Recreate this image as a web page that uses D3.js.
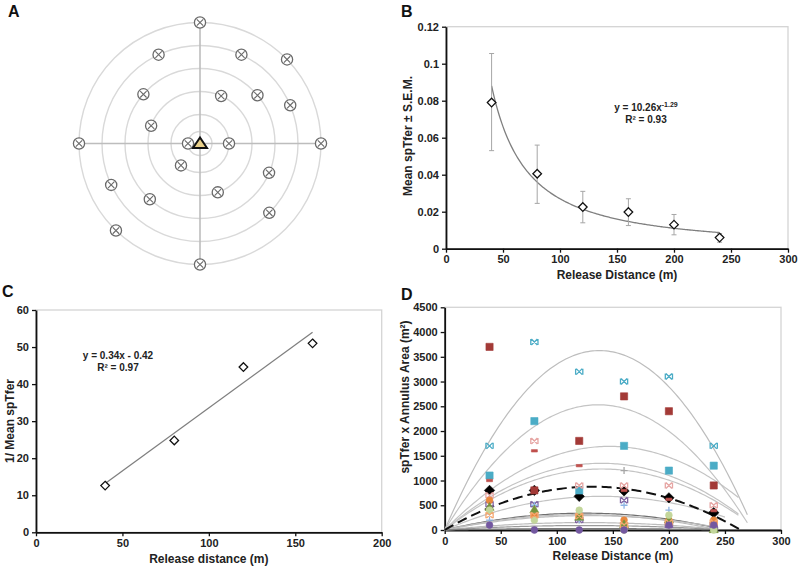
<!DOCTYPE html>
<html><head><meta charset="utf-8">
<script src="https://cdn.jsdelivr.net/npm/d3@7"></script>
<style>
body{margin:0;background:#fff;}
svg{display:block;font-family:"Liberation Sans",Arial,sans-serif;}
</style></head><body>
<svg id="chart" width="800" height="570"></svg>
<script>
// ---------- Panel A data ----------
const ringDistances = [40, 80, 120, 160, 200, 240];
const trapRing  = [240,200,200,240,160,120,160,200,120,40,80,80,160,200,160,120,200,240,240,240,240];
const trapAngle = [90,115,65,44,139,66,40,23,160,180,0,229,337,205,228,290,315,226,270,180,0];

// ---------- Panel B data ----------
const distB = [40, 80, 120, 160, 200, 240];
const meanB = [0.079, 0.0405, 0.0225, 0.0198, 0.013, 0.006];
const lowB  = [0.053, 0.0245, 0.014, 0.0125, 0.0075, 0.0035];
const highB = [0.1055, 0.056, 0.031, 0.027, 0.0185, 0.0082];
const fitBCoef = 10.26, fitBExp = -1.29;
const ticksBX = [0, 50, 100, 150, 200, 250, 300];
const ticksBY = [0, 0.02, 0.04, 0.06, 0.08, 0.1, 0.12];

// ---------- Panel C data ----------
const distC = [40, 80, 120, 160];
const invC  = [12.6, 24.8, 44.6, 51];
const fitCSlope = 0.34, fitCIntercept = -0.42;
const ticksCX = [0, 50, 100, 150, 200];
const ticksCY = [0, 10, 20, 30, 40, 50, 60];

// ---------- Panel D data ----------
const distD = [40, 80, 120, 160, 200, 240];
const meanD      = [800, 800, 680, 790, 650, 350];
const cyanX      = [1700, 3800, 3200, 3000, 3100, 1700];
const redSq      = [3700, 800, 1800, 2700, 2400, 900];
const cyanSq     = [1100, 2200, 800, 1700, 1200, 1300];
const pinkX      = [700, 1800, 900, 900, 900, 500];
const redDash    = [1000, 1600, 1300, 800, 620, 390];
const grayPlus   = [null, null, null, 1200, null, null];
const purpleX    = [520, 520, 200, 600, 100, 100];
const bluePlus   = [200, 500, 200, 500, 400, 100];
const orangeCirc = [600, 280, 300, 200, 200, 200];
const greenTri   = [450, 400, 250, 100, 200, 0];
const lgreenCirc = [400, 200, 400, 0, 300, 0];
const orangeX    = [300, 300, 280, 100, 150, 150];
const purpleCirc = [100, 0, 0, 0, 100, 100];
// quadratic trendlines through origin: peak position, peak value, end of line
const trendPeakX = [138, 137, 147, 140, 140, 140, 125, 122, 128, 125, 125, 125];
const trendPeakY = [3625, 2530, 1690, 1348, 1233, 680, 340, 310, 290, 150, 90, 30];
const trendEndX  = [270, 270, 263, 262, 262, 250, 245, 242, 245, 245, 245, 245];
const meanTrendPeakX = 132, meanTrendPeakY = 875, meanTrendEndX = 264;
const ticksDX = [0, 50, 100, 150, 200, 250, 300];
const ticksDY = [0, 500, 1000, 1500, 2000, 2500, 3000, 3500, 4000, 4500];

// ---------- drawing ----------
const svg = d3.select('#chart');
const TXT = '#222';

function label(t, x, y) {
  svg.append('text').attr('x', x).attr('y', y).attr('font-size', 16)
    .attr('font-weight', 'bold').attr('fill', '#111').text(t);
}

function frame(g, x, y, xTicks, yTicks, yFmt, xTitle, yTitle, yTitleX, yTitleY, xTitleY) {
  const [x0, x1] = x.range(), [y0, y1] = y.range();
  g.append('rect').attr('x', x0).attr('y', y1).attr('width', x1 - x0).attr('height', y0 - y1)
    .attr('fill', 'none').attr('stroke', '#d4d4d4').attr('stroke-width', 1.3);
  const ax = g.append('g').attr('transform', `translate(0,${y0})`)
    .call(d3.axisBottom(x).tickValues(xTicks).tickSize(4).tickSizeOuter(0).tickFormat(d3.format('d')));
  const ay = g.append('g').attr('transform', `translate(${x0},0)`)
    .call(d3.axisLeft(y).tickValues(yTicks).tickSize(4).tickSizeOuter(0).tickFormat(yFmt));
  [ax, ay].forEach(a => {
    a.select('.domain').attr('stroke', '#111').attr('stroke-width', 1.8);
    a.selectAll('.tick line').attr('stroke', '#111').attr('stroke-width', 1.3);
    a.selectAll('.tick text').attr('font-size', 11).attr('font-weight', 'bold')
      .attr('fill', TXT).attr('font-family', '"Liberation Sans",Arial,sans-serif');
  });
  g.append('text').attr('x', (x0 + x1) / 2).attr('y', xTitleY).attr('text-anchor', 'middle')
    .attr('font-size', 12).attr('font-weight', 'bold').attr('fill', TXT).text(xTitle);
  g.append('text').attr('transform', `translate(${yTitleX},${yTitleY}) rotate(-90)`)
    .attr('text-anchor', 'middle').attr('font-size', 12).attr('font-weight', 'bold')
    .attr('fill', TXT).text(yTitle);
}

const diamondPath = (s) => `M0,${-s}L${s},0L0,${s}L${-s},0Z`;

// ===== Panel A =====
label('A', 8, 17);
{
  const cx = 200, cy = 143.5;
  const r = d3.scaleLinear().domain([0, 40, 80, 240]).range([0, 12, 29, 121]);
  const g = svg.append('g');
  g.selectAll('circle.ring').data(ringDistances).join('circle')
    .attr('cx', cx).attr('cy', cy).attr('r', d => r(d))
    .attr('fill', 'none').attr('stroke', '#d9d9d9').attr('stroke-width', 1.4);
  const R = r(d3.max(ringDistances));
  g.append('line').attr('x1', cx - R).attr('x2', cx + R).attr('y1', cy).attr('y2', cy)
    .attr('stroke', '#bdbdbd').attr('stroke-width', 1.6);
  g.append('line').attr('x1', cx).attr('x2', cx).attr('y1', cy - R).attr('y2', cy + R)
    .attr('stroke', '#bdbdbd').attr('stroke-width', 1.6);
  const traps = trapRing.map((d, i) => {
    const a = trapAngle[i] * Math.PI / 180;
    return [cx + r(d) * Math.cos(a), cy - r(d) * Math.sin(a)];
  });
  const tg = g.selectAll('g.trap').data(traps).join('g')
    .attr('transform', d => `translate(${d[0]},${d[1]})`);
  tg.append('circle').attr('r', 5.6).attr('fill', '#fff').attr('stroke', '#6a6a6a').attr('stroke-width', 1.3);
  tg.append('path').attr('d', 'M-3.2,-3.2L3.2,3.2M-3.2,3.2L3.2,-3.2')
    .attr('stroke', '#6a6a6a').attr('stroke-width', 1.1);
  g.append('path').attr('transform', `translate(${cx},${cy})`)
    .attr('d', 'M0,-6L7,4.5L-7,4.5Z').attr('fill', '#e9d08a')
    .attr('stroke', '#111').attr('stroke-width', 2).attr('stroke-linejoin', 'miter');
}

// ===== Panel B =====
label('B', 401, 17);
{
  const g = svg.append('g');
  const x = d3.scaleLinear().domain([0, 300]).range([446, 788]);
  const y = d3.scaleLinear().domain([0, 0.12]).range([248.7, 26.7]);
  frame(g, x, y, ticksBX, ticksBY, d => d === 0 ? '0' : String(+d.toFixed(2)),
    'Release Distance (m)', 'Mean spTfer \u00B1 S.E.M.', 412, 136, 279);
  const fitX = d3.range(distB[0], distB[distB.length - 1] + 0.5, 1);
  g.append('path').datum(fitX)
    .attr('d', d3.line().x(d => x(d)).y(d => y(fitBCoef * Math.pow(d, fitBExp))))
    .attr('fill', 'none').attr('stroke', '#7f7f7f').attr('stroke-width', 1.3);
  const eb = g.selectAll('g.eb').data(distB).join('g');
  eb.append('line').attr('x1', d => x(d)).attr('x2', d => x(d))
    .attr('y1', (d, i) => y(lowB[i])).attr('y2', (d, i) => y(highB[i]))
    .attr('stroke', '#a6a6a6').attr('stroke-width', 1);
  eb.append('path').attr('d', (d, i) =>
      `M${x(d) - 2.5},${y(lowB[i])}H${x(d) + 2.5}M${x(d) - 2.5},${y(highB[i])}H${x(d) + 2.5}`)
    .attr('stroke', '#a6a6a6').attr('stroke-width', 1);
  g.selectAll('path.pt').data(distB).join('path')
    .attr('transform', (d, i) => `translate(${x(d)},${y(meanB[i])})`)
    .attr('d', diamondPath(4.3)).attr('fill', '#fff').attr('stroke', '#111').attr('stroke-width', 1.3);
  const eq = g.append('text').attr('x', 646).attr('y', 111).attr('text-anchor', 'middle')
    .attr('font-size', 10).attr('font-weight', 'bold').attr('fill', TXT);
  eq.append('tspan').text('y = 10.26x');
  eq.append('tspan').attr('dy', -4).attr('font-size', 7).text('-1.29');
  g.append('text').attr('x', 646).attr('y', 123).attr('text-anchor', 'middle')
    .attr('font-size', 10).attr('font-weight', 'bold').attr('fill', TXT).text('R\u00B2 = 0.93');
}

// ===== Panel C =====
label('C', 2, 297);
{
  const g = svg.append('g');
  const x = d3.scaleLinear().domain([0, 200]).range([36, 381.7]);
  const y = d3.scaleLinear().domain([0, 60]).range([532.3, 310]);
  frame(g, x, y, ticksCX, ticksCY, d3.format('d'),
    'Release distance (m)', '1/ Mean spTfer', 14, 421, 563);
  const ends = [distC[0], distC[distC.length - 1]];
  g.append('line')
    .attr('x1', x(ends[0])).attr('y1', y(fitCSlope * ends[0] + fitCIntercept))
    .attr('x2', x(ends[1])).attr('y2', y(fitCSlope * ends[1] + fitCIntercept))
    .attr('stroke', '#7f7f7f').attr('stroke-width', 1.3);
  g.selectAll('path.pt').data(distC).join('path')
    .attr('transform', (d, i) => `translate(${x(d)},${y(invC[i])})`)
    .attr('d', diamondPath(4.3)).attr('fill', '#fff').attr('stroke', '#111').attr('stroke-width', 1.3);
  g.append('text').attr('x', 118).attr('y', 358.5).attr('text-anchor', 'middle')
    .attr('font-size', 10).attr('font-weight', 'bold').attr('fill', TXT).text('y = 0.34x - 0.42');
  g.append('text').attr('x', 118).attr('y', 370.5).attr('text-anchor', 'middle')
    .attr('font-size', 10).attr('font-weight', 'bold').attr('fill', TXT).text('R\u00B2 = 0.97');
}

// ===== Panel D =====
label('D', 401, 300);
{
  const g = svg.append('g');
  const x = d3.scaleLinear().domain([0, 300]).range([444.7, 781]);
  const y = d3.scaleLinear().domain([0, 4500]).range([530, 307.3]);
  frame(g, x, y, ticksDX, ticksDY, d3.format('d'),
    'Release Distance (m)', 'spTfer x Annulus Area (m\u00B2)', 409, 397, 560);
  const quad = (h, P) => xx => P * (2 * xx / h - (xx * xx) / (h * h));
  const line = d3.line().x(d => x(d[0])).y(d => y(d[1]));
  const trendShade = ['#bdbdbd', '#c4c4c4', '#c4c4c4', '#c4c4c4', '#c4c4c4', '#c4c4c4',
                      '#6f6f6f', '#bdbdbd', '#bdbdbd', '#bdbdbd', '#9a9a9a', '#7a7a7a'];
  trendPeakX.forEach((h, i) => {
    const f = quad(h, trendPeakY[i]);
    const pts = d3.range(0, trendEndX[i] + 0.01, 2).map(v => [v, f(v)]);
    g.append('path').datum(pts).attr('d', line).attr('fill', 'none')
      .attr('stroke', trendShade[i]).attr('stroke-width', 1.2);
  });
  {
    const f = quad(meanTrendPeakX, meanTrendPeakY);
    const pts = d3.range(0, meanTrendEndX + 0.01, 2).map(v => [v, Math.max(0, f(v))]);
    g.append('path').datum(pts).attr('d', line).attr('fill', 'none')
      .attr('stroke', '#111').attr('stroke-width', 2).attr('stroke-dasharray', '10,5');
  }
  const series = [
    {v: meanD, c: '#000', t: 'diamond'},
    {v: cyanX, c: '#4bacc6', t: 'x'},
    {v: redSq, c: '#a33a37', t: 'square'},
    {v: cyanSq, c: '#4bacc6', t: 'square'},
    {v: pinkX, c: '#e6a6a4', t: 'x'},
    {v: redDash, c: '#c0504d', t: 'dash'},
    {v: grayPlus, c: '#a6a6a6', t: 'plus'},
    {v: purpleX, c: '#8064a2', t: 'x'},
    {v: bluePlus, c: '#8eb4e3', t: 'plus'},
    {v: orangeCirc, c: '#e9883e', t: 'circle'},
    {v: greenTri, c: '#77933c', t: 'triangle'},
    {v: lgreenCirc, c: '#c3d69b', t: 'circle'},
    {v: orangeX, c: '#f4a66f', t: 'x'},
    {v: purpleCirc, c: '#7358a0', t: 'circle'}
  ];
  const shapes = {
    diamond: {d: diamondPath(5.2), fill: true},
    square: {d: 'M-3.6,-3.6H3.6V3.6H-3.6Z', fill: true},
    circle: {d: d3.symbol(d3.symbolCircle, 36)(), fill: true},
    triangle: {d: d3.symbol(d3.symbolTriangle, 36)(), fill: true},
    x: {d: 'M-3,-3L3,3M-3,3L3,-3M-3.6,-3V3M3.6,-3V3', fill: false},
    plus: {d: 'M-3.5,0H3.5M0,-3.5V3.5', fill: false},
    dash: {d: 'M-3,-1.2H3V1.2H-3Z', fill: true}
  };
  series.forEach(s => {
    const pts = distD.map((d, i) => [d, s.v[i]]).filter(p => p[1] !== null);
    const sh = shapes[s.t];
    g.selectAll(null).data(pts).join('path')
      .attr('transform', p => `translate(${x(p[0])},${y(p[1])})`)
      .attr('d', sh.d)
      .attr('fill', sh.fill ? s.c : 'none')
      .attr('stroke', s.c).attr('stroke-width', sh.fill ? 0.6 : 1.3);
  });
}
</script>
</body></html>
